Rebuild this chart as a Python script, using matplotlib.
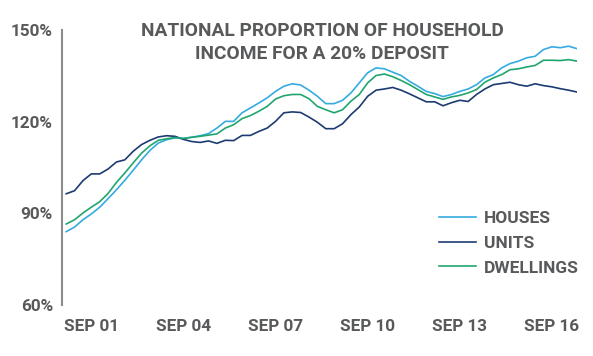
import numpy as np
import matplotlib
matplotlib.use("Agg")
import matplotlib.pyplot as plt

plt.rcParams['font.family'] = ['Roboto', 'DejaVu Sans']

title = "NATIONAL PROPORTION OF HOUSEHOLD\nINCOME FOR A 20% DEPOSIT"
x_labels = ["SEP 01", "SEP 04", "SEP 07", "SEP 10", "SEP 13", "SEP 16"]
y_ticks = [60, 90, 120, 150]
y_labels = ["60%", "90%", "120%", "150%"]
series_names = ["HOUSES", "UNITS", "DWELLINGS"]

houses = [84.0, 85.5, 87.9, 89.8, 92.0, 94.8, 97.7, 100.8, 104.1, 107.5,
          110.6, 113.0, 114.1, 114.7, 114.5, 114.9, 115.4, 116.1, 117.9, 120.1,
          120.1, 122.9, 124.5, 126.1, 127.8, 129.9, 131.6, 132.4, 132.0, 130.3,
          128.3, 125.9, 125.9, 127.0, 129.4, 132.7, 136.0, 137.6, 137.3, 136.2,
          135.1, 133.2, 131.6, 129.9, 129.2, 128.2, 128.9, 129.9, 130.7, 132.1,
          134.3, 135.4, 137.6, 139.0, 139.8, 140.9, 141.4, 143.6, 144.5, 144.2,
          144.7, 143.9]
units = [96.4, 97.4, 100.7, 102.9, 102.9, 104.5, 106.8, 107.5, 110.3, 112.5,
         113.9, 115.0, 115.4, 115.2, 114.2, 113.5, 113.2, 113.7, 112.9, 113.9,
         113.8, 115.5, 115.5, 116.8, 117.9, 120.1, 122.9, 123.2, 123.0, 121.5,
         119.8, 117.7, 117.7, 119.3, 122.3, 124.8, 128.3, 130.3, 130.7, 131.2,
         130.3, 129.1, 127.8, 126.5, 126.5, 125.2, 126.2, 127.0, 126.6, 128.9,
         130.7, 132.1, 132.5, 132.9, 132.1, 131.6, 132.4, 131.8, 131.4, 130.8,
         130.3, 129.7]
dwellings = [86.5, 87.9, 90.1, 92.0, 93.8, 96.5, 100.1, 103.2, 106.5, 109.7,
             112.1, 113.9, 114.4, 114.8, 114.5, 114.9, 115.2, 115.6, 116.0, 117.9,
             119.0, 121.0, 122.0, 123.4, 125.0, 127.4, 128.5, 128.9, 128.9, 127.5,
             125.0, 123.9, 122.9, 123.9, 126.7, 128.9, 132.7, 135.1, 135.6, 134.7,
             133.5, 132.1, 130.5, 128.9, 128.1, 127.3, 128.1, 128.6, 129.4, 130.5,
             132.9, 134.3, 135.4, 137.0, 137.3, 137.9, 138.4, 140.1, 140.1, 140.0,
             140.3, 139.8]

colors = ["#35ABDF", "#1D3B72", "#21A56E"]
text_color = "#58595B"

W, H = 593, 356
fig = plt.figure(figsize=(W / 100, H / 100), dpi=100)
ax = fig.add_axes([62 / W, 1 - 305 / H, (577 - 62) / W, 275 / H])

x = np.arange(len(houses))
for vals, name, c in zip([houses, units, dwellings], series_names, colors):
    ax.plot(x, vals, color=c, lw=1.2, label=name)

ax.set_xlim(-0.5, len(houses) - 1)
ax.set_ylim(60, 150)
ax.set_yticks(y_ticks)
ax.set_yticklabels(y_labels)
tick_pos = 3 + 11 * np.arange(len(x_labels))
ax.set_xticks(tick_pos)
ax.set_xticklabels(x_labels)

for s in ["top", "right", "bottom"]:
    ax.spines[s].set_visible(False)
ax.spines["left"].set_color("#8C8C8C")
ax.spines["left"].set_linewidth(1.5)

ax.tick_params(axis="both", length=0, labelsize=12.3, colors=text_color)
ax.tick_params(axis="y", pad=6.5)
ax.tick_params(axis="x", pad=10)
for lab in ax.get_xticklabels() + ax.get_yticklabels():
    lab.set_fontweight("bold")

fig.text(322 / W, 1 - 21.5 / H, title, ha="center", va="top", fontsize=13.8,
         fontweight="bold", color=text_color, linespacing=1.4)

leg = ax.legend(loc="upper left", bbox_to_anchor=(439 / W, 1 - 211 / H),
                bbox_transform=fig.transFigure, frameon=False, fontsize=12.5,
                handlelength=2.15, handletextpad=0.42, labelspacing=0.55,
                borderpad=0, borderaxespad=0)
for t in leg.get_texts():
    t.set_color(text_color)
    t.set_fontweight("bold")

fig.savefig("out.png", dpi=100)
